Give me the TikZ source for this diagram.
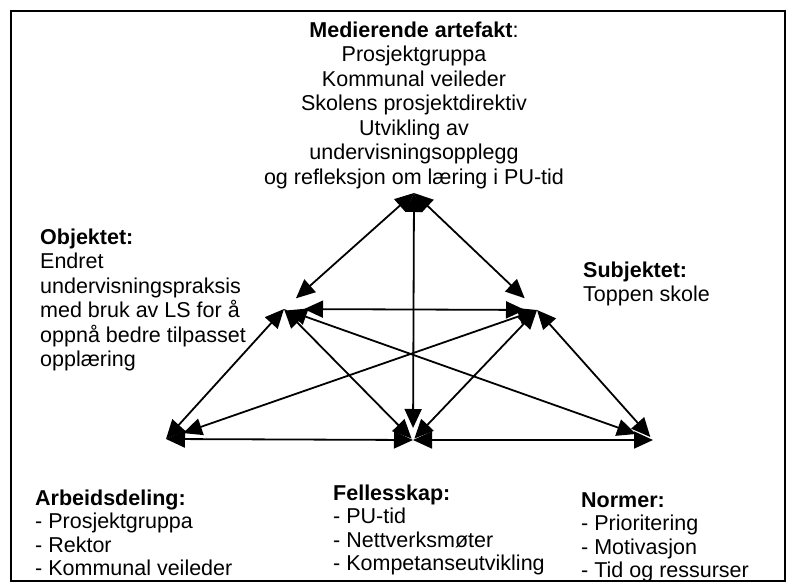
\documentclass[tikz,border=0pt]{standalone}
\usepackage{fontspec}
\setmainfont{Liberation Sans}
\usetikzlibrary{arrows.meta}
\begin{document}
\begin{tikzpicture}[x=1pt,y=-1pt,
  link/.style={line width=1.8pt,
    {Triangle[length=19pt,width=17pt]}-{Triangle[length=19pt,width=17pt]}},
  txt/.style={font=\fontsize{21.5}{24.5}\selectfont, inner sep=0pt, align=left},
  txtb/.style={font=\fontsize{21.5}{23.5}\selectfont, inner sep=0pt, align=left}
]
\useasboundingbox (0,0) rectangle (801,588);
\draw[line width=2pt] (11,11) rectangle (785,581);

% corners of the activity system
\coordinate (M) at (414,193);
\coordinate (O) at (284,309);
\coordinate (S) at (537,310);
\coordinate (A) at (166,439);
\coordinate (F) at (413,440);
\coordinate (N) at (653,440);

% texts
\node[txt, align=center, anchor=north] (med) at (414,21.3)
  {\textbf{Medierende artefakt}:\\Prosjektgruppa\\Kommunal veileder\\Skolens prosjektdirektiv\\Utvikling av\\undervisningsopplegg\\og refleksjon om læring i PU-tid};
\node[txt, anchor=north west] (obj) at (40,228.3)
  {\textbf{Objektet:}\\Endret\\undervisningspraksis\\med bruk av LS for å\\oppnå bedre tilpasset\\opplæring};
\node[txt, anchor=north west] (sub) at (583,261.3)
  {\textbf{Subjektet:}\\Toppen skole};
\node[txtb, anchor=north west] (arb) at (35,489.3)
  {\textbf{Arbeidsdeling:}\\- Prosjektgruppa\\- Rektor\\- Kommunal veileder};
\node[txtb, anchor=north west] (fel) at (333,484.3)
  {\textbf{Fellesskap:}\\- PU-tid\\- Nettverksmøter\\- Kompetanseutvikling};
\node[txtb, anchor=north west] (nor) at (581,492.3)
  {\textbf{Normer:}\\- Prioritering\\- Motivasjon\\- Tid og ressurser};

% connectors
\draw[link, shorten >=16pt] (M) -- (O);
\draw[link, shorten >=17pt] (M) -- (S);
\draw[link, shorten >=12pt] (M) -- (F);
\draw[link, shorten <=20pt, shorten >=12pt] (O) -- (S);
\draw[link] (O) -- (A);
\draw[link, shorten >=2pt] (O) -- (F);
\draw[link, shorten <=4pt, shorten >=18pt] (O) -- (N);
\draw[link, shorten >=18pt] (S) -- (A);
\draw[link, shorten >=2pt] (S) -- (F);
\draw[link, shorten >=4pt] (S) -- (N);
\draw[link] (A) -- (F);
\draw[link] (F) -- (N);
\end{tikzpicture}
\end{document}
